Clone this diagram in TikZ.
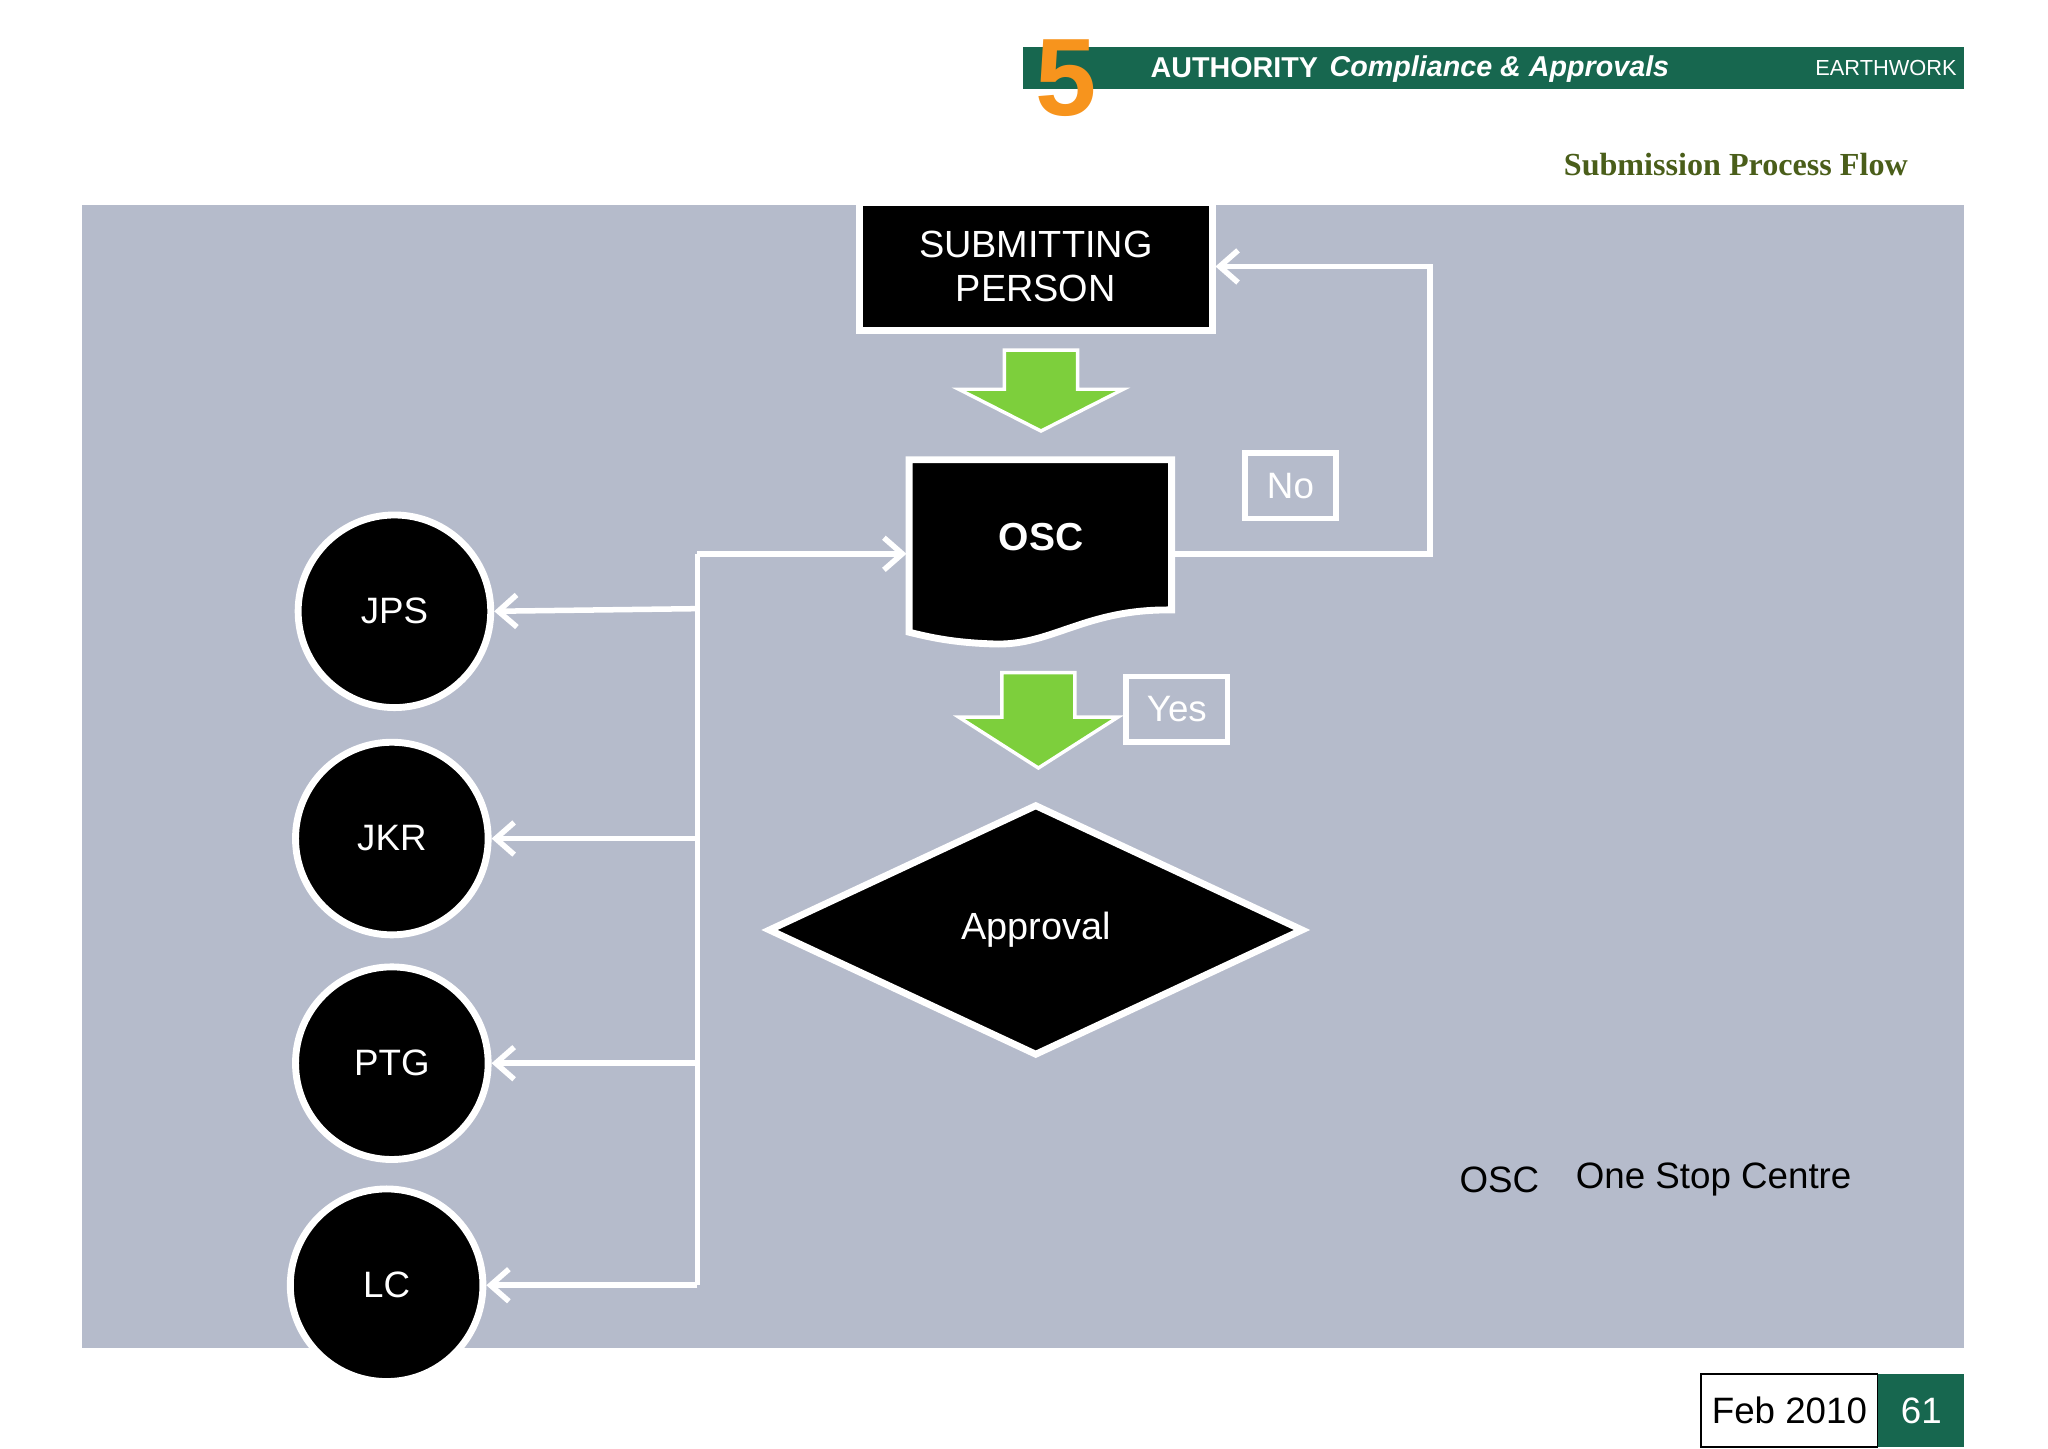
\documentclass[tikz,border=0pt]{standalone}
\usepackage{fontspec}
\setmainfont{Liberation Sans}
\newfontfamily\serifface{Liberation Serif}
\usetikzlibrary{arrows.meta,shapes.geometric}
\definecolor{panel}{HTML}{B5BBCB}
\definecolor{bar}{HTML}{17674F}
\definecolor{leaf}{HTML}{7DCF3C}
\definecolor{title}{HTML}{4A5E1A}
\definecolor{five}{HTML}{F7941D}
\begin{document}
\begin{tikzpicture}[x=0.02cm,y=-0.02cm,
  wline/.style={draw=white,line width=2.4pt},
  flow/.style={wline,-{Straight Barb[length=8pt,width=14pt,line width=2.4pt]}},
  blob/.style={circle,fill=black,draw=white,line width=3pt,minimum size=2.95cm,text=white,font=\fontsize{16}{19}\selectfont},
  tag/.style={draw=white,line width=2.4pt,text=white,font=\fontsize{16}{19}\selectfont},
  down/.style={fill=leaf,draw=white,line width=1.5pt}]
  \useasboundingbox (0,0) rectangle (1568,1109);

  % header bar
  \fill[bar] (783,36) rectangle (1504,68);
  \node[text=five,font=\bfseries\fontsize{48}{50}\selectfont] at (816,60) {5};
  \node[text=white,font=\bfseries\fontsize{12.5}{14}\selectfont] at (945,52) {AUTHORITY};
  \node[text=white,font=\bfseries\itshape\fontsize{12.5}{14}\selectfont] at (1148,53) {Compliance \& Approvals};
  \node[text=white,font=\fontsize{9.5}{11}\selectfont] at (1444,52) {EARTHWORK};
  \node[text=title,font=\serifface\bfseries\fontsize{14}{16}\selectfont] at (1329,126) {Submission Process Flow};

  % panel
  \fill[panel] (63,157) rectangle (1504,1032);

  % submitting person
  \node[fill=black,draw=white,line width=3pt,minimum width=5.4cm,minimum height=1.95cm,
        text=white,align=center,font=\fontsize{16.5}{19}\selectfont] (sub) at (793,204) {SUBMITTING\\PERSON};

  % green arrows
  \draw[down] (769,268) -- (825,268) -- (825,298) -- (860,298) -- (797,330) -- (734,298) -- (769,298) -- cycle;
  \draw[down] (767,515) -- (823,515) -- (823,549) -- (856,549) -- (795,588) -- (734,549) -- (767,549) -- cycle;

  % OSC document
  \draw[fill=black,draw=white,line width=3pt] (696,352) -- (897,352) -- (897,467)
    .. controls (830,466) and (805,495) .. (760,493) .. controls (730,492) and (712,488) .. (696,484) -- cycle;
  \node[text=white,font=\bfseries\fontsize{17}{20}\selectfont] (osc) at (797,411) {OSC};
  \coordinate (oscw) at (694,424);
  \coordinate (osce) at (899,424);

  % no / yes
  \node[tag,minimum width=1.4cm,minimum height=1cm] (no) at (988,372) {No};
  \node[tag,minimum width=1.55cm,minimum height=1cm] (yes) at (901,543) {Yes};
  \coordinate (loopa) at (1095,424);
  \coordinate (loopb) at (1095,204);
  \draw[flow] (osce) -- (loopa) -- (loopb) -- (sub.east);

  % approval
  \node[diamond,fill=black,draw=white,line width=3pt,minimum width=8.2cm,minimum height=3.85cm,
        inner sep=0pt,text=white,font=\fontsize{16.5}{20}\selectfont] (appr) at (793,712) {Approval};

  % authorities
  \node[blob] (jps) at (302,468) {JPS};
  \node[blob] (jkr) at (300,642) {JKR};
  \node[blob] (ptg) at (300,814) {PTG};
  \node[blob] (lc) at (296,984) {LC};

  \coordinate (top) at (534,424);
  \coordinate (t1) at (534,466);
  \coordinate (t2) at (534,642);
  \coordinate (t3) at (534,814);
  \coordinate (t4) at (534,984);
  \draw[wline] (top) -- (t4);
  \draw[flow] (top) -- (oscw);
  \draw[flow] (t1) -- (jps.east);
  \draw[flow] (t2) -- (jkr.east);
  \draw[flow] (t3) -- (ptg.east);
  \draw[flow] (t4) -- (lc.east);

  % legend
  \node[font=\fontsize{16}{19}\selectfont] at (1148,903) {OSC};
  \node[font=\fontsize{16}{19}\selectfont] at (1312,903) {One Stop Centre};

  % footer
  \node[draw=black,line width=0.8pt,minimum width=2.7cm,minimum height=1.12cm,
        font=\fontsize{16}{19}\selectfont] (date) at (1370,1080) {Feb 2010};
  \node[fill=bar,minimum width=1.32cm,minimum height=1.12cm,text=white,
        font=\fontsize{16}{19}\selectfont] (page) at (1471,1080) {61};
\end{tikzpicture}
\end{document}
